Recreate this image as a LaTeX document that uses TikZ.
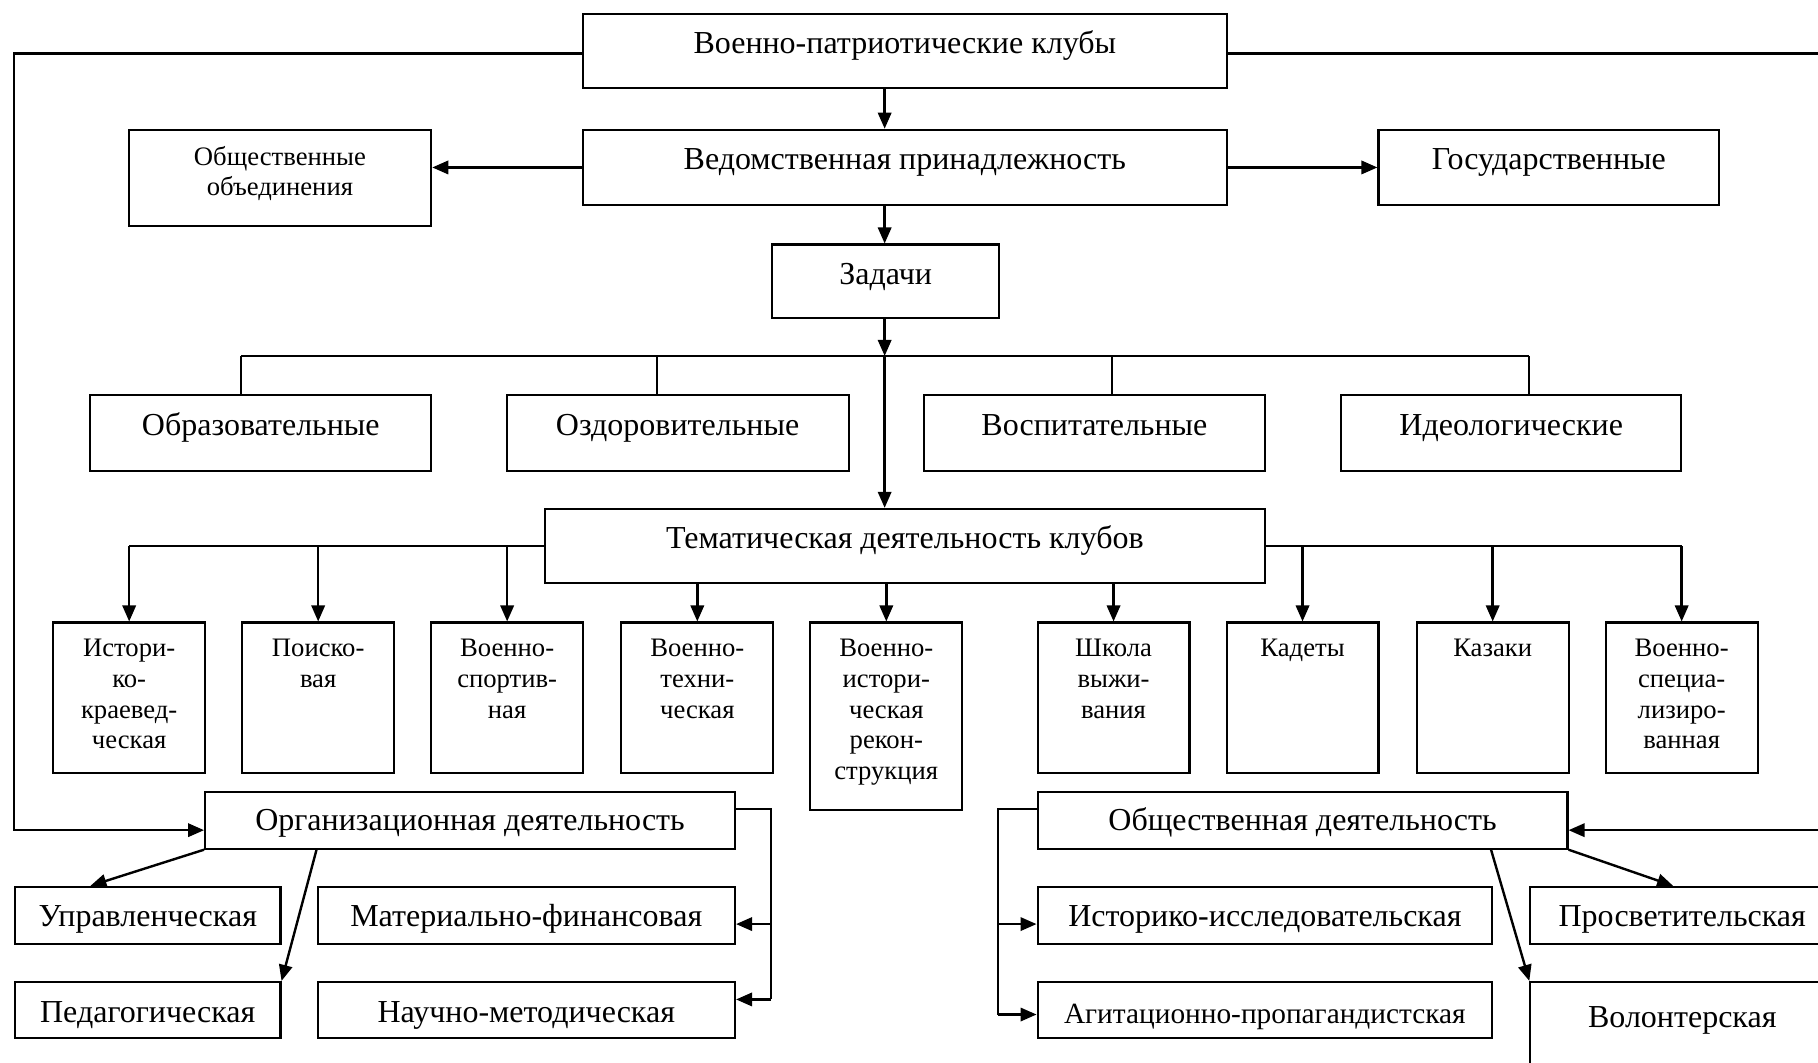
\documentclass[tikz,border=0pt]{standalone}
\usepackage{fontspec}
\setmainfont{Liberation Serif}
\usetikzlibrary{arrows.meta}
\newlength\pxl \setlength\pxl{0.4348pt}
% width px, height px, first-baseline offset px, text
\newcommand\tbox[4]{\parbox[t][#2\pxl][t]{#1\pxl}{\centering\rule{0pt}{#3\pxl}#4}}
\tikzset{
  box/.style={draw, line width=0.8pt, inner sep=0pt, anchor=north west, font=\fontsize{12}{14}\selectfont},
  sbox/.style={box, font=\fontsize{10}{11.5}\selectfont},
  mbox/.style={box, font=\fontsize{11}{13}\selectfont},
  arr/.style={line width=0.9pt, -{Triangle[length=6pt,width=5pt]}},
  ln/.style={line width=0.8pt},
}
\begin{document}
\begin{tikzpicture}[x=0.4348pt, y=-0.4348pt]
\useasboundingbox (0,0) rectangle (1568,916);
\clip (0,0) rectangle (1568,916);
% top
\node[box] (vpk) at (502,11) {\tbox{555}{64}{34.5}{Военно-патриотические клубы}};
\node[box] (ved) at (502,111) {\tbox{555}{65}{34.5}{Ведомственная принадлежность}};
\node[sbox] (obob) at (110,111) {\tbox{261}{83}{30.5}{Общественные\\объединения}};
\node[box] (gos) at (1188,111) {\tbox{294}{65}{34.5}{Государственные}};
\node[box] (zad) at (665,210) {\tbox{196}{63}{34.5}{Задачи}};
% tasks
\node[box] (obr) at (77,340) {\tbox{294}{65}{34.5}{Образовательные}};
\node[box] (ozd) at (436,340) {\tbox{295}{65}{34.5}{Оздоровительные}};
\node[box] (vos) at (796,340) {\tbox{294}{65}{34.5}{Воспитательные}};
\node[box] (ide) at (1156,340) {\tbox{293}{65}{34.5}{Идеологические}};
\node[box] (tem) at (469,438) {\tbox{621}{64}{34.5}{Тематическая деятельность клубов}};
% thematic
\node[sbox] (b1) at (45,536) {\tbox{131}{130}{29.5}{Истори-\\ко-\\краевед-\\ческая}};
\node[sbox] (b2) at (208,536) {\tbox{131}{130}{29.5}{Поиско-\\вая}};
\node[sbox] (b3) at (371,536) {\tbox{131}{130}{29.5}{Военно-\\спортив-\\ная}};
\node[sbox] (b4) at (535,536) {\tbox{131}{130}{29.5}{Военно-\\техни-\\ческая}};
\node[sbox] (b5) at (698,536) {\tbox{131}{162}{29.5}{Военно-\\истори-\\ческая\\рекон-\\струкция}};
\node[sbox] (b6) at (894,536) {\tbox{131}{130}{29.5}{Школа\\выжи-\\вания}};
\node[sbox] (b7) at (1057,536) {\tbox{131}{130}{29.5}{Кадеты}};
\node[sbox] (b8) at (1221,536) {\tbox{131}{130}{29.5}{Казаки}};
\node[sbox] (b9) at (1384,536) {\tbox{131}{130}{29.5}{Военно-\\специа-\\лизиро-\\ванная}};
% organisational
\node[box] (org) at (176,682) {\tbox{457}{49}{33.5}{Организационная деятельность}};
\node[box] (upr) at (12,764) {\tbox{229}{49}{34}{Управленческая}};
\node[box] (ped) at (12,846) {\tbox{229}{48}{35}{Педагогическая}};
\node[box] (mat) at (273,764) {\tbox{360}{49}{34}{Материально-финансовая}};
\node[box] (nau) at (273,846) {\tbox{360}{48}{35}{Научно-методическая}};
% social
\node[box] (obd) at (894,682) {\tbox{457}{49}{33.5}{Общественная деятельность}};
\node[box] (ist) at (894,764) {\tbox{392}{49}{34}{Историко-исследовательская}};
\node[mbox] (agi) at (894,846) {\tbox{392}{48}{35.5}{Агитационно-пропагандистская}};
\node[box] (pro) at (1319,764) {\tbox{262}{49}{34}{Просветительская}};
\node[box] (vol) at (1319,846) {\tbox{262}{130}{39}{Волонтерская}};
% helper coordinates
\coordinate (c763) at (763,0);
\coordinate (bus) at (763,307);
\coordinate (bL) at (208,307);
\coordinate (bR) at (1319,307);
\coordinate (b567) at (567,307);
\coordinate (b959) at (959,307);
\coordinate (lt) at (12,46);
\coordinate (lb) at (12,716);
\coordinate (rt) at (1590,46);
\coordinate (rb) at (1590,716);
\coordinate (or1) at (665,698);
\coordinate (om) at (665,797);
\coordinate (or2) at (665,862);
\coordinate (ol1) at (861,698);
\coordinate (oi) at (861,797);
\coordinate (ol2) at (861,875);
\coordinate (x78) at (78,0);
\coordinate (x273) at (273,0);
\coordinate (x1286) at (1286,0);
\coordinate (x1443) at (1443,0);
% main column
\draw[arr] (vpk.south -| c763) -- (ved.north -| c763);
\draw[arr] (ved.south -| c763) -- (zad.north -| c763);
\draw[arr] (ved.west) -- (ved.west -| obob.east);
\draw[arr] (ved.east) -- (gos.west);
\draw[arr] (zad.south -| c763) -- (bus);
\draw[ln] (bL) -- (bR);
\draw[ln] (bL) -- (bL |- obr.north);
\draw[ln] (b567) -- (b567 |- ozd.north);
\draw[ln] (b959) -- (b959 |- vos.north);
\draw[ln] (bR) -- (bR |- ide.north);
\draw[arr] (bus) -- (tem.north -| bus);
% thematic branches
\draw[ln] (tem.west) -- (tem.west -| b1.north);
\draw[arr] (tem.west -| b1.north) -- (b1.north);
\draw[arr] (tem.west -| b2.north) -- (b2.north);
\draw[arr] (tem.west -| b3.north) -- (b3.north);
\draw[arr] (tem.south -| b4.north) -- (b4.north);
\draw[arr] (tem.south -| b5.north) -- (b5.north);
\draw[arr] (tem.south -| b6.north) -- (b6.north);
\draw[ln] (tem.east) -- (tem.east -| b9.north);
\draw[arr] (tem.east -| b7.north) -- (b7.north);
\draw[arr] (tem.east -| b8.north) -- (b8.north);
\draw[arr] (tem.east -| b9.north) -- (b9.north);
% outer loops
\draw[arr] (vpk.west |- lt) -- (lt) -- (lb) -- (org.west |- lb);
\draw[arr] (vpk.east |- rt) -- (rt) -- (rb) -- (obd.east |- rb);
% organisational branches
\draw[ln] (org.east |- or1) -- (or1) -- (or2);
\draw[arr] (om) -- (mat.east |- om);
\draw[arr] (or2) -- (nau.east |- or2);
\draw[arr] (org.south west) -- (upr.north -| x78);
\draw[arr] (org.south -| x273) -- (ped.north east);
% social branches
\draw[ln] (obd.west |- ol1) -- (ol1) -- (ol2);
\draw[arr] (oi) -- (ist.west |- oi);
\draw[arr] (ol2) -- (agi.west |- ol2);
\draw[arr] (obd.south east) -- (pro.north -| x1443);
\draw[arr] (obd.south -| x1286) -- (vol.north west);
\end{tikzpicture}
\end{document}
